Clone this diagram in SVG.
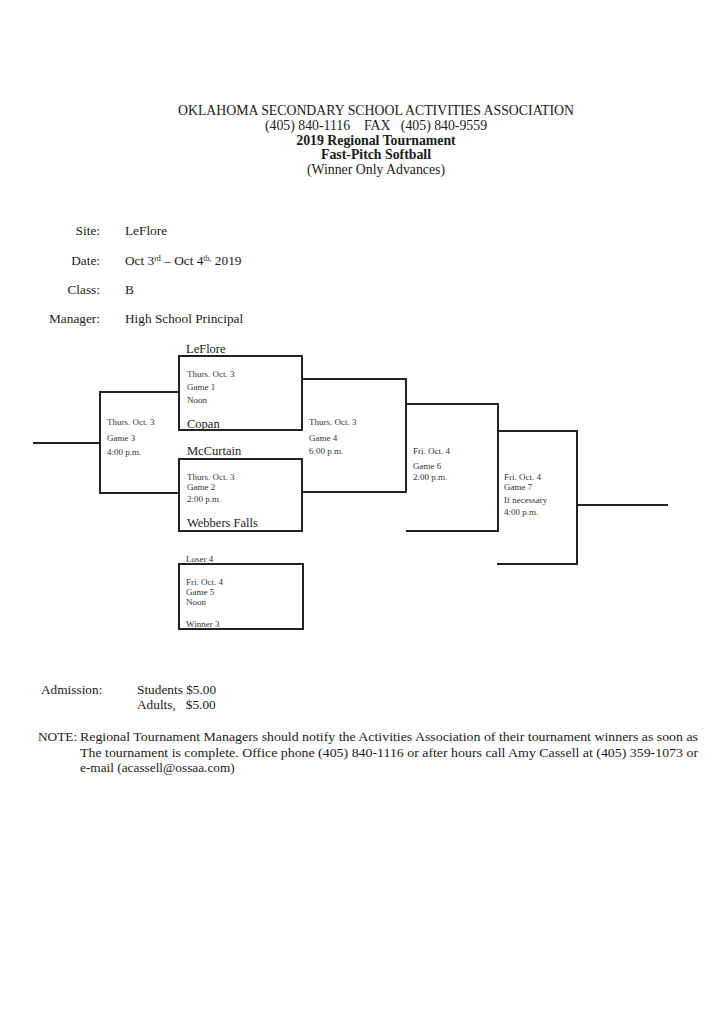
<svg xmlns="http://www.w3.org/2000/svg" width="725" height="1024" viewBox="0 0 725 1024">
<style>
text{font-family:"Liberation Serif","Times New Roman",serif;fill:#1a1a1a}
.h{font-size:13.8px;text-anchor:middle}
.b{font-weight:bold}
.f{font-size:13.3px}
.lbl{font-size:13.3px;text-anchor:end}
.team{font-size:12.5px}
.s{font-size:9px;fill:#333}
.box{fill:none;stroke:#222;stroke-width:2}
.ln{fill:none;stroke:#222;stroke-width:2}
</style>
<rect width="725" height="1024" fill="#fff"/>
<g id="header">
<text class="h" x="376" y="115">OKLAHOMA SECONDARY SCHOOL ACTIVITIES ASSOCIATION</text>
<text class="h" x="376" y="130" xml:space="preserve">(405) 840-1116    FAX   (405) 840-9559</text>
<text class="h b" x="376" y="145">2019 Regional Tournament</text>
<text class="h b" x="376" y="159">Fast-Pitch Softball</text>
<text class="h" x="376" y="174">(Winner Only Advances)</text>
</g>
<g id="info">
<text class="lbl" x="100" y="235">Site:</text>
<text class="f" x="125" y="235">LeFlore</text>
<text class="lbl" x="100" y="265">Date:</text>
<text class="f" x="125" y="265">Oct 3<tspan font-size="8" dy="-4">rd</tspan><tspan dy="4"> – Oct 4</tspan><tspan font-size="8" dy="-4">th,</tspan><tspan dy="4"> 2019</tspan></text>
<text class="lbl" x="100" y="294">Class:</text>
<text class="f" x="125" y="294">B</text>
<text class="lbl" x="100" y="323">Manager:</text>
<text class="f" x="125" y="323">High School Principal</text>
</g>
<g id="connectors">
<polyline class="ln" points="179,392 100,392 100,493 179,493"/>
<line class="ln" x1="33" y1="443" x2="100" y2="443"/>
<polyline class="ln" points="302,379 406,379 406,492 302,492"/>
<polyline class="ln" points="406,404 498,404 498,531 406,531"/>
<polyline class="ln" points="498,431 577,431 577,564 497,564"/>
<line class="ln" x1="577" y1="505" x2="668" y2="505"/>
</g>
<g id="game1">
<rect class="box" x="179" y="356" width="123" height="74"/>
<text class="team" x="186" y="353">LeFlore</text>
<text class="s" x="187" y="377">Thurs. Oct. 3</text>
<text class="s" x="187" y="390">Game 1</text>
<text class="s" x="187" y="403">Noon</text>
<text class="team" x="187" y="428">Copan</text>
</g>
<g id="game2">
<rect class="box" x="179" y="459" width="123" height="72"/>
<text class="team" x="187" y="455">McCurtain</text>
<text class="s" x="187" y="480">Thurs. Oct. 3</text>
<text class="s" x="187" y="490">Game 2</text>
<text class="s" x="187" y="502">2:00 p.m.</text>
<text class="team" x="187" y="527">Webbers Falls</text>
</g>
<g id="game3">
<text class="s" x="107" y="425">Thurs. Oct. 3</text>
<text class="s" x="107" y="441">Game 3</text>
<text class="s" x="107" y="455">4:00 p.m.</text>
</g>
<g id="game4">
<text class="s" x="309" y="425">Thurs. Oct. 3</text>
<text class="s" x="309" y="441">Game 4</text>
<text class="s" x="309" y="454">6:00 p.m.</text>
</g>
<g id="game6">
<text class="s" x="413" y="454">Fri. Oct. 4</text>
<text class="s" x="413" y="469">Game 6</text>
<text class="s" x="413" y="480">2:00 p.m.</text>
</g>
<g id="game7">
<text class="s" x="504" y="480">Fri. Oct. 4</text>
<text class="s" x="504" y="490">Game 7</text>
<text class="s" x="504" y="503">If necessary</text>
<text class="s" x="504" y="515">4:00 p.m.</text>
</g>
<g id="game5">
<rect class="box" x="179" y="564" width="124" height="65"/>
<text class="s" x="186" y="562">Loser 4</text>
<text class="s" x="186" y="585">Fri. Oct. 4</text>
<text class="s" x="186" y="595">Game 5</text>
<text class="s" x="186" y="605">Noon</text>
<text class="s" x="186" y="627">Winner 3</text>
</g>
<g id="footer">
<text class="f" x="41" y="694">Admission:</text>
<text class="f" x="137" y="694">Students $5.00</text>
<text class="f" x="137" y="709" xml:space="preserve">Adults,   $5.00</text>
<text class="f" x="38" y="741">NOTE:</text>
<text class="f" x="80" y="741" textLength="618" lengthAdjust="spacingAndGlyphs">Regional Tournament Managers should notify the Activities Association of their tournament winners as soon as</text>
<text class="f" x="80" y="757" textLength="618" lengthAdjust="spacingAndGlyphs">The tournament is complete.  Office phone (405) 840-1116 or after hours call Amy Cassell at (405) 359-1073 or</text>
<text class="f" x="80" y="772">e-mail (acassell@ossaa.com)</text>
</g>
</svg>
